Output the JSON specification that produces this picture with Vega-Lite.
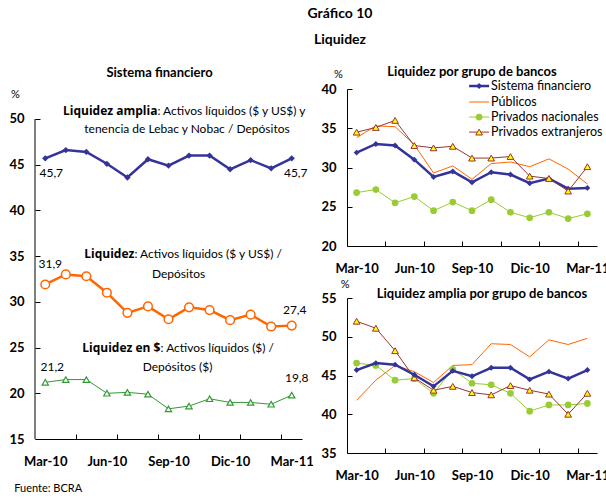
{
"$schema": "https://vega.github.io/schema/vega-lite/v6.json",
"padding": {"left": 8, "top": 6, "right": 5, "bottom": 5},
"title": {"text": ["Gráfico 10", "Liquidez"], "fontSize": 14, "fontWeight": "bold", "lineHeight": 26, "offset": 19, "dx": 31, "anchor": "middle"},
"bounds": "flush",
"spacing": 45,
"datasets": {
"sf": [
{"i":0,"mes":"mar-10","s":"amplia","v":45.7},{"i":1,"mes":"abr-10","s":"amplia","v":46.6},{"i":2,"mes":"may-10","s":"amplia","v":46.4},{"i":3,"mes":"jun-10","s":"amplia","v":45.1},{"i":4,"mes":"jul-10","s":"amplia","v":43.6},{"i":5,"mes":"ago-10","s":"amplia","v":45.6},{"i":6,"mes":"sep-10","s":"amplia","v":44.9},{"i":7,"mes":"oct-10","s":"amplia","v":46.0},{"i":8,"mes":"nov-10","s":"amplia","v":46.0},{"i":9,"mes":"dic-10","s":"amplia","v":44.5},{"i":10,"mes":"ene-11","s":"amplia","v":45.5},{"i":11,"mes":"feb-11","s":"amplia","v":44.6},{"i":12,"mes":"mar-11","s":"amplia","v":45.7},
{"i":0,"mes":"mar-10","s":"liq","v":31.9},{"i":1,"mes":"abr-10","s":"liq","v":33.0},{"i":2,"mes":"may-10","s":"liq","v":32.8},{"i":3,"mes":"jun-10","s":"liq","v":31.0},{"i":4,"mes":"jul-10","s":"liq","v":28.8},{"i":5,"mes":"ago-10","s":"liq","v":29.5},{"i":6,"mes":"sep-10","s":"liq","v":28.1},{"i":7,"mes":"oct-10","s":"liq","v":29.4},{"i":8,"mes":"nov-10","s":"liq","v":29.1},{"i":9,"mes":"dic-10","s":"liq","v":28.0},{"i":10,"mes":"ene-11","s":"liq","v":28.6},{"i":11,"mes":"feb-11","s":"liq","v":27.3},{"i":12,"mes":"mar-11","s":"liq","v":27.4},
{"i":0,"mes":"mar-10","s":"pesos","v":21.2},{"i":1,"mes":"abr-10","s":"pesos","v":21.5},{"i":2,"mes":"may-10","s":"pesos","v":21.5},{"i":3,"mes":"jun-10","s":"pesos","v":20.0},{"i":4,"mes":"jul-10","s":"pesos","v":20.1},{"i":5,"mes":"ago-10","s":"pesos","v":19.9},{"i":6,"mes":"sep-10","s":"pesos","v":18.3},{"i":7,"mes":"oct-10","s":"pesos","v":18.6},{"i":8,"mes":"nov-10","s":"pesos","v":19.4},{"i":9,"mes":"dic-10","s":"pesos","v":19.0},{"i":10,"mes":"ene-11","s":"pesos","v":19.0},{"i":11,"mes":"feb-11","s":"pesos","v":18.8},{"i":12,"mes":"mar-11","s":"pesos","v":19.8}
],
"grp": [
{"i":0,"s":"pub","v":33.8},{"i":1,"s":"pub","v":35.3},{"i":2,"s":"pub","v":35.2},{"i":3,"s":"pub","v":32.9},{"i":4,"s":"pub","v":29.3},{"i":5,"s":"pub","v":30.2},{"i":6,"s":"pub","v":28.5},{"i":7,"s":"pub","v":30.5},{"i":8,"s":"pub","v":30.7},{"i":9,"s":"pub","v":30.1},{"i":10,"s":"pub","v":31.1},{"i":11,"s":"pub","v":29.8},{"i":12,"s":"pub","v":27.9},
{"i":0,"s":"nac","v":26.8},{"i":1,"s":"nac","v":27.2},{"i":2,"s":"nac","v":25.5},{"i":3,"s":"nac","v":26.3},{"i":4,"s":"nac","v":24.5},{"i":5,"s":"nac","v":25.6},{"i":6,"s":"nac","v":24.5},{"i":7,"s":"nac","v":25.9},{"i":8,"s":"nac","v":24.3},{"i":9,"s":"nac","v":23.6},{"i":10,"s":"nac","v":24.3},{"i":11,"s":"nac","v":23.5},{"i":12,"s":"nac","v":24.1},
{"i":0,"s":"ext","v":34.5},{"i":1,"s":"ext","v":35.1},{"i":2,"s":"ext","v":36.0},{"i":3,"s":"ext","v":32.8},{"i":4,"s":"ext","v":32.5},{"i":5,"s":"ext","v":32.7},{"i":6,"s":"ext","v":31.2},{"i":7,"s":"ext","v":31.2},{"i":8,"s":"ext","v":31.4},{"i":9,"s":"ext","v":28.9},{"i":10,"s":"ext","v":28.6},{"i":11,"s":"ext","v":27.0},{"i":12,"s":"ext","v":30.1}
],
"grpa": [
{"i":0,"s":"pub","v":41.8},{"i":1,"s":"pub","v":44.4},{"i":2,"s":"pub","v":46.3},{"i":3,"s":"pub","v":45.5},{"i":4,"s":"pub","v":44.1},{"i":5,"s":"pub","v":46.3},{"i":6,"s":"pub","v":46.4},{"i":7,"s":"pub","v":49.1},{"i":8,"s":"pub","v":49.0},{"i":9,"s":"pub","v":47.4},{"i":10,"s":"pub","v":49.6},{"i":11,"s":"pub","v":49.0},{"i":12,"s":"pub","v":49.8},
{"i":0,"s":"nac","v":46.6},{"i":1,"s":"nac","v":46.3},{"i":2,"s":"nac","v":44.4},{"i":3,"s":"nac","v":44.6},{"i":4,"s":"nac","v":42.7},{"i":5,"s":"nac","v":45.8},{"i":6,"s":"nac","v":44.0},{"i":7,"s":"nac","v":43.8},{"i":8,"s":"nac","v":42.7},{"i":9,"s":"nac","v":40.4},{"i":10,"s":"nac","v":41.2},{"i":11,"s":"nac","v":41.2},{"i":12,"s":"nac","v":41.4},
{"i":0,"s":"ext","v":52.0},{"i":1,"s":"ext","v":51.1},{"i":2,"s":"ext","v":48.2},{"i":3,"s":"ext","v":44.7},{"i":4,"s":"ext","v":43.1},{"i":5,"s":"ext","v":43.6},{"i":6,"s":"ext","v":42.8},{"i":7,"s":"ext","v":42.5},{"i":8,"s":"ext","v":43.7},{"i":9,"s":"ext","v":43.1},{"i":10,"s":"ext","v":42.6},{"i":11,"s":"ext","v":40.0},{"i":12,"s":"ext","v":42.7}
]
},
"hconcat": [
{
"width": 267, "height": 350,
"title": {"text": "Sistema financiero", "dx": -9, "offset": 9},
"layer": [
{"data": {"name": "sf"}, "transform": [{"filter": "datum.s == 'amplia'"}], "mark": {"type": "line", "color": "#333399", "strokeWidth": 2.5},
"encoding": {"x": {"field": "i", "type": "quantitative", "title": null, "scale": {"domain": [-0.5, 12.5], "nice": false, "zero": false}, "axis": {"values": [0, 1.5, 3, 3.5, 5.5, 6, 7.5, 9, 9.5, 11.5, 12], "labelExpr": "datum.value % 3 == 0 ? ['Mar-10','Jun-10','Sep-10','Dic-10','Mar-11'][datum.value / 3] : ''", "tickOpacity": {"condition": {"test": "datum.value % 1 != 0", "value": 1}, "value": 0}}}, "y": {"field": "v", "type": "quantitative", "title": null, "scale": {"domain": [15, 53.28], "nice": false, "zero": false}, "axis": {"values": [15, 20, 25, 30, 35, 40, 45, 50], "domain": false}}}},
{"data": {"name": "sf"}, "transform": [{"filter": "datum.s == 'amplia'"}], "mark": {"type": "point", "shape": "diamond", "filled": true, "color": "#333399", "size": 40, "opacity": 1},
"encoding": {"x": {"field": "i", "type": "quantitative", "title": null, "scale": {"domain": [-0.5, 12.5], "nice": false, "zero": false}, "axis": {"values": [0, 1.5, 3, 3.5, 5.5, 6, 7.5, 9, 9.5, 11.5, 12], "labelExpr": "datum.value % 3 == 0 ? ['Mar-10','Jun-10','Sep-10','Dic-10','Mar-11'][datum.value / 3] : ''", "tickOpacity": {"condition": {"test": "datum.value % 1 != 0", "value": 1}, "value": 0}}}, "y": {"field": "v", "type": "quantitative", "title": null, "scale": {"domain": [15, 53.28], "nice": false, "zero": false}, "axis": {"values": [15, 20, 25, 30, 35, 40, 45, 50], "domain": false}}}},
{"data": {"name": "sf"}, "transform": [{"filter": "datum.s == 'liq'"}], "mark": {"type": "line", "color": "#FF6600", "strokeWidth": 2.5},
"encoding": {"x": {"field": "i", "type": "quantitative", "title": null, "scale": {"domain": [-0.5, 12.5], "nice": false, "zero": false}, "axis": {"values": [0, 1.5, 3, 3.5, 5.5, 6, 7.5, 9, 9.5, 11.5, 12], "labelExpr": "datum.value % 3 == 0 ? ['Mar-10','Jun-10','Sep-10','Dic-10','Mar-11'][datum.value / 3] : ''", "tickOpacity": {"condition": {"test": "datum.value % 1 != 0", "value": 1}, "value": 0}}}, "y": {"field": "v", "type": "quantitative", "title": null, "scale": {"domain": [15, 53.28], "nice": false, "zero": false}, "axis": {"values": [15, 20, 25, 30, 35, 40, 45, 50], "domain": false}}}},
{"data": {"name": "sf"}, "transform": [{"filter": "datum.s == 'liq'"}], "mark": {"type": "point", "shape": "circle", "filled": true, "fill": "white", "stroke": "#FF6600", "strokeWidth": 1.5, "size": 75, "opacity": 1},
"encoding": {"x": {"field": "i", "type": "quantitative", "title": null, "scale": {"domain": [-0.5, 12.5], "nice": false, "zero": false}, "axis": {"values": [0, 1.5, 3, 3.5, 5.5, 6, 7.5, 9, 9.5, 11.5, 12], "labelExpr": "datum.value % 3 == 0 ? ['Mar-10','Jun-10','Sep-10','Dic-10','Mar-11'][datum.value / 3] : ''", "tickOpacity": {"condition": {"test": "datum.value % 1 != 0", "value": 1}, "value": 0}}}, "y": {"field": "v", "type": "quantitative", "title": null, "scale": {"domain": [15, 53.28], "nice": false, "zero": false}, "axis": {"values": [15, 20, 25, 30, 35, 40, 45, 50], "domain": false}}}},
{"data": {"name": "sf"}, "transform": [{"filter": "datum.s == 'pesos'"}], "mark": {"type": "line", "color": "#339933", "strokeWidth": 1},
"encoding": {"x": {"field": "i", "type": "quantitative", "title": null, "scale": {"domain": [-0.5, 12.5], "nice": false, "zero": false}, "axis": {"values": [0, 1.5, 3, 3.5, 5.5, 6, 7.5, 9, 9.5, 11.5, 12], "labelExpr": "datum.value % 3 == 0 ? ['Mar-10','Jun-10','Sep-10','Dic-10','Mar-11'][datum.value / 3] : ''", "tickOpacity": {"condition": {"test": "datum.value % 1 != 0", "value": 1}, "value": 0}}}, "y": {"field": "v", "type": "quantitative", "title": null, "scale": {"domain": [15, 53.28], "nice": false, "zero": false}, "axis": {"values": [15, 20, 25, 30, 35, 40, 45, 50], "domain": false}}}},
{"data": {"name": "sf"}, "transform": [{"filter": "datum.s == 'pesos'"}], "mark": {"type": "point", "shape": "triangle-up", "filled": true, "fill": "white", "stroke": "#339933", "strokeWidth": 1.2, "size": 40, "opacity": 1},
"encoding": {"x": {"field": "i", "type": "quantitative", "title": null, "scale": {"domain": [-0.5, 12.5], "nice": false, "zero": false}, "axis": {"values": [0, 1.5, 3, 3.5, 5.5, 6, 7.5, 9, 9.5, 11.5, 12], "labelExpr": "datum.value % 3 == 0 ? ['Mar-10','Jun-10','Sep-10','Dic-10','Mar-11'][datum.value / 3] : ''", "tickOpacity": {"condition": {"test": "datum.value % 1 != 0", "value": 1}, "value": 0}}}, "y": {"field": "v", "type": "quantitative", "title": null, "scale": {"domain": [15, 53.28], "nice": false, "zero": false}, "axis": {"values": [15, 20, 25, 30, 35, 40, 45, 50], "domain": false}}}},
{"data": {"name": "sf"}, "transform": [{"filter": "datum.s == 'amplia' && datum.i == 0"}], "mark": {"type": "text", "dx": 6, "dy": 15},
"encoding": {"x": {"field": "i", "type": "quantitative", "title": null, "scale": {"domain": [-0.5, 12.5], "nice": false, "zero": false}, "axis": {"values": [0, 1.5, 3, 3.5, 5.5, 6, 7.5, 9, 9.5, 11.5, 12], "labelExpr": "datum.value % 3 == 0 ? ['Mar-10','Jun-10','Sep-10','Dic-10','Mar-11'][datum.value / 3] : ''", "tickOpacity": {"condition": {"test": "datum.value % 1 != 0", "value": 1}, "value": 0}}}, "y": {"field": "v", "type": "quantitative", "title": null, "scale": {"domain": [15, 53.28], "nice": false, "zero": false}, "axis": {"values": [15, 20, 25, 30, 35, 40, 45, 50], "domain": false}}, "text": {"field": "v", "type": "quantitative", "format": ".1f"}}},
{"data": {"name": "sf"}, "transform": [{"filter": "datum.s == 'amplia' && datum.i == 12"}], "mark": {"type": "text", "dx": 4, "dy": 15},
"encoding": {"x": {"field": "i", "type": "quantitative", "title": null, "scale": {"domain": [-0.5, 12.5], "nice": false, "zero": false}, "axis": {"values": [0, 1.5, 3, 3.5, 5.5, 6, 7.5, 9, 9.5, 11.5, 12], "labelExpr": "datum.value % 3 == 0 ? ['Mar-10','Jun-10','Sep-10','Dic-10','Mar-11'][datum.value / 3] : ''", "tickOpacity": {"condition": {"test": "datum.value % 1 != 0", "value": 1}, "value": 0}}}, "y": {"field": "v", "type": "quantitative", "title": null, "scale": {"domain": [15, 53.28], "nice": false, "zero": false}, "axis": {"values": [15, 20, 25, 30, 35, 40, 45, 50], "domain": false}}, "text": {"field": "v", "type": "quantitative", "format": ".1f"}}},
{"data": {"name": "sf"}, "transform": [{"filter": "datum.s == 'liq' && datum.i == 0"}], "mark": {"type": "text", "dx": 5, "dy": -20},
"encoding": {"x": {"field": "i", "type": "quantitative", "title": null, "scale": {"domain": [-0.5, 12.5], "nice": false, "zero": false}, "axis": {"values": [0, 1.5, 3, 3.5, 5.5, 6, 7.5, 9, 9.5, 11.5, 12], "labelExpr": "datum.value % 3 == 0 ? ['Mar-10','Jun-10','Sep-10','Dic-10','Mar-11'][datum.value / 3] : ''", "tickOpacity": {"condition": {"test": "datum.value % 1 != 0", "value": 1}, "value": 0}}}, "y": {"field": "v", "type": "quantitative", "title": null, "scale": {"domain": [15, 53.28], "nice": false, "zero": false}, "axis": {"values": [15, 20, 25, 30, 35, 40, 45, 50], "domain": false}}, "text": {"field": "v", "type": "quantitative", "format": ".1f"}}},
{"data": {"name": "sf"}, "transform": [{"filter": "datum.s == 'liq' && datum.i == 12"}], "mark": {"type": "text", "dx": 3, "dy": -16},
"encoding": {"x": {"field": "i", "type": "quantitative", "title": null, "scale": {"domain": [-0.5, 12.5], "nice": false, "zero": false}, "axis": {"values": [0, 1.5, 3, 3.5, 5.5, 6, 7.5, 9, 9.5, 11.5, 12], "labelExpr": "datum.value % 3 == 0 ? ['Mar-10','Jun-10','Sep-10','Dic-10','Mar-11'][datum.value / 3] : ''", "tickOpacity": {"condition": {"test": "datum.value % 1 != 0", "value": 1}, "value": 0}}}, "y": {"field": "v", "type": "quantitative", "title": null, "scale": {"domain": [15, 53.28], "nice": false, "zero": false}, "axis": {"values": [15, 20, 25, 30, 35, 40, 45, 50], "domain": false}}, "text": {"field": "v", "type": "quantitative", "format": ".1f"}}},
{"data": {"name": "sf"}, "transform": [{"filter": "datum.s == 'pesos' && datum.i == 0"}], "mark": {"type": "text", "dx": 7, "dy": -15},
"encoding": {"x": {"field": "i", "type": "quantitative", "title": null, "scale": {"domain": [-0.5, 12.5], "nice": false, "zero": false}, "axis": {"values": [0, 1.5, 3, 3.5, 5.5, 6, 7.5, 9, 9.5, 11.5, 12], "labelExpr": "datum.value % 3 == 0 ? ['Mar-10','Jun-10','Sep-10','Dic-10','Mar-11'][datum.value / 3] : ''", "tickOpacity": {"condition": {"test": "datum.value % 1 != 0", "value": 1}, "value": 0}}}, "y": {"field": "v", "type": "quantitative", "title": null, "scale": {"domain": [15, 53.28], "nice": false, "zero": false}, "axis": {"values": [15, 20, 25, 30, 35, 40, 45, 50], "domain": false}}, "text": {"field": "v", "type": "quantitative", "format": ".1f"}}},
{"data": {"name": "sf"}, "transform": [{"filter": "datum.s == 'pesos' && datum.i == 12"}], "mark": {"type": "text", "dx": 5, "dy": -17},
"encoding": {"x": {"field": "i", "type": "quantitative", "title": null, "scale": {"domain": [-0.5, 12.5], "nice": false, "zero": false}, "axis": {"values": [0, 1.5, 3, 3.5, 5.5, 6, 7.5, 9, 9.5, 11.5, 12], "labelExpr": "datum.value % 3 == 0 ? ['Mar-10','Jun-10','Sep-10','Dic-10','Mar-11'][datum.value / 3] : ''", "tickOpacity": {"condition": {"test": "datum.value % 1 != 0", "value": 1}, "value": 0}}}, "y": {"field": "v", "type": "quantitative", "title": null, "scale": {"domain": [15, 53.28], "nice": false, "zero": false}, "axis": {"values": [15, 20, 25, 30, 35, 40, 45, 50], "domain": false}}, "text": {"field": "v", "type": "quantitative", "format": ".1f"}}},
{"data": {"values": [{}]}, "mark": {"type": "rule", "color": "black", "strokeWidth": 1},
"encoding": {"x": {"datum": -0.5, "type": "quantitative", "title": null, "scale": {"domain": [-0.5, 12.5], "nice": false, "zero": false}, "axis": {"values": [0, 1.5, 3, 3.5, 5.5, 6, 7.5, 9, 9.5, 11.5, 12], "labelExpr": "datum.value % 3 == 0 ? ['Mar-10','Jun-10','Sep-10','Dic-10','Mar-11'][datum.value / 3] : ''", "tickOpacity": {"condition": {"test": "datum.value % 1 != 0", "value": 1}, "value": 0}}}, "y": {"datum": 15, "type": "quantitative", "title": null, "scale": {"domain": [15, 53.28], "nice": false, "zero": false}, "axis": {"values": [15, 20, 25, 30, 35, 40, 45, 50], "domain": false}}, "y2": {"datum": 50}}},
{"data": {"values": [{}]}, "mark": {"type": "text", "text": "Liquidez amplia", "font": "Open Sans", "fontSize": 12, "fontWeight": "bold", "align": "right"},
"encoding": {"x": {"datum": 5.46, "type": "quantitative", "title": null, "scale": {"domain": [-0.5, 12.5], "nice": false, "zero": false}, "axis": {"values": [0, 1.5, 3, 3.5, 5.5, 6, 7.5, 9, 9.5, 11.5, 12], "labelExpr": "datum.value % 3 == 0 ? ['Mar-10','Jun-10','Sep-10','Dic-10','Mar-11'][datum.value / 3] : ''", "tickOpacity": {"condition": {"test": "datum.value % 1 != 0", "value": 1}, "value": 0}}}, "y": {"datum": 50.88, "type": "quantitative", "title": null, "scale": {"domain": [15, 53.28], "nice": false, "zero": false}, "axis": {"values": [15, 20, 25, 30, 35, 40, 45, 50], "domain": false}}}},
{"data": {"values": [{}]}, "mark": {"type": "text", "text": ": Activos líquidos ($ y US$) y", "align": "left"},
"encoding": {"x": {"datum": 5.46, "type": "quantitative", "title": null, "scale": {"domain": [-0.5, 12.5], "nice": false, "zero": false}, "axis": {"values": [0, 1.5, 3, 3.5, 5.5, 6, 7.5, 9, 9.5, 11.5, 12], "labelExpr": "datum.value % 3 == 0 ? ['Mar-10','Jun-10','Sep-10','Dic-10','Mar-11'][datum.value / 3] : ''", "tickOpacity": {"condition": {"test": "datum.value % 1 != 0", "value": 1}, "value": 0}}}, "y": {"datum": 50.88, "type": "quantitative", "title": null, "scale": {"domain": [15, 53.28], "nice": false, "zero": false}, "axis": {"values": [15, 20, 25, 30, 35, 40, 45, 50], "domain": false}}}},
{"data": {"values": [{}]}, "mark": {"type": "text", "text": "tenencia de Lebac y Nobac / Depósitos", "align": "center"},
"encoding": {"x": {"datum": 6.9, "type": "quantitative", "title": null, "scale": {"domain": [-0.5, 12.5], "nice": false, "zero": false}, "axis": {"values": [0, 1.5, 3, 3.5, 5.5, 6, 7.5, 9, 9.5, 11.5, 12], "labelExpr": "datum.value % 3 == 0 ? ['Mar-10','Jun-10','Sep-10','Dic-10','Mar-11'][datum.value / 3] : ''", "tickOpacity": {"condition": {"test": "datum.value % 1 != 0", "value": 1}, "value": 0}}}, "y": {"datum": 48.9, "type": "quantitative", "title": null, "scale": {"domain": [15, 53.28], "nice": false, "zero": false}, "axis": {"values": [15, 20, 25, 30, 35, 40, 45, 50], "domain": false}}}},
{"data": {"values": [{}]}, "mark": {"type": "text", "text": "Liquidez", "font": "Open Sans", "fontSize": 12, "fontWeight": "bold", "align": "right"},
"encoding": {"x": {"datum": 4.34, "type": "quantitative", "title": null, "scale": {"domain": [-0.5, 12.5], "nice": false, "zero": false}, "axis": {"values": [0, 1.5, 3, 3.5, 5.5, 6, 7.5, 9, 9.5, 11.5, 12], "labelExpr": "datum.value % 3 == 0 ? ['Mar-10','Jun-10','Sep-10','Dic-10','Mar-11'][datum.value / 3] : ''", "tickOpacity": {"condition": {"test": "datum.value % 1 != 0", "value": 1}, "value": 0}}}, "y": {"datum": 35.23, "type": "quantitative", "title": null, "scale": {"domain": [15, 53.28], "nice": false, "zero": false}, "axis": {"values": [15, 20, 25, 30, 35, 40, 45, 50], "domain": false}}}},
{"data": {"values": [{}]}, "mark": {"type": "text", "text": ": Activos líquidos ($ y US$) /", "align": "left"},
"encoding": {"x": {"datum": 4.34, "type": "quantitative", "title": null, "scale": {"domain": [-0.5, 12.5], "nice": false, "zero": false}, "axis": {"values": [0, 1.5, 3, 3.5, 5.5, 6, 7.5, 9, 9.5, 11.5, 12], "labelExpr": "datum.value % 3 == 0 ? ['Mar-10','Jun-10','Sep-10','Dic-10','Mar-11'][datum.value / 3] : ''", "tickOpacity": {"condition": {"test": "datum.value % 1 != 0", "value": 1}, "value": 0}}}, "y": {"datum": 35.23, "type": "quantitative", "title": null, "scale": {"domain": [15, 53.28], "nice": false, "zero": false}, "axis": {"values": [15, 20, 25, 30, 35, 40, 45, 50], "domain": false}}}},
{"data": {"values": [{}]}, "mark": {"type": "text", "text": "Depósitos", "align": "center"},
"encoding": {"x": {"datum": 6.49, "type": "quantitative", "title": null, "scale": {"domain": [-0.5, 12.5], "nice": false, "zero": false}, "axis": {"values": [0, 1.5, 3, 3.5, 5.5, 6, 7.5, 9, 9.5, 11.5, 12], "labelExpr": "datum.value % 3 == 0 ? ['Mar-10','Jun-10','Sep-10','Dic-10','Mar-11'][datum.value / 3] : ''", "tickOpacity": {"condition": {"test": "datum.value % 1 != 0", "value": 1}, "value": 0}}}, "y": {"datum": 33.05, "type": "quantitative", "title": null, "scale": {"domain": [15, 53.28], "nice": false, "zero": false}, "axis": {"values": [15, 20, 25, 30, 35, 40, 45, 50], "domain": false}}}},
{"data": {"values": [{}]}, "mark": {"type": "text", "text": "Liquidez en $", "font": "Open Sans", "fontSize": 12, "fontWeight": "bold", "align": "right"},
"encoding": {"x": {"datum": 5.61, "type": "quantitative", "title": null, "scale": {"domain": [-0.5, 12.5], "nice": false, "zero": false}, "axis": {"values": [0, 1.5, 3, 3.5, 5.5, 6, 7.5, 9, 9.5, 11.5, 12], "labelExpr": "datum.value % 3 == 0 ? ['Mar-10','Jun-10','Sep-10','Dic-10','Mar-11'][datum.value / 3] : ''", "tickOpacity": {"condition": {"test": "datum.value % 1 != 0", "value": 1}, "value": 0}}}, "y": {"datum": 24.95, "type": "quantitative", "title": null, "scale": {"domain": [15, 53.28], "nice": false, "zero": false}, "axis": {"values": [15, 20, 25, 30, 35, 40, 45, 50], "domain": false}}}},
{"data": {"values": [{}]}, "mark": {"type": "text", "text": ": Activos líquidos ($) /", "align": "left"},
"encoding": {"x": {"datum": 5.61, "type": "quantitative", "title": null, "scale": {"domain": [-0.5, 12.5], "nice": false, "zero": false}, "axis": {"values": [0, 1.5, 3, 3.5, 5.5, 6, 7.5, 9, 9.5, 11.5, 12], "labelExpr": "datum.value % 3 == 0 ? ['Mar-10','Jun-10','Sep-10','Dic-10','Mar-11'][datum.value / 3] : ''", "tickOpacity": {"condition": {"test": "datum.value % 1 != 0", "value": 1}, "value": 0}}}, "y": {"datum": 24.95, "type": "quantitative", "title": null, "scale": {"domain": [15, 53.28], "nice": false, "zero": false}, "axis": {"values": [15, 20, 25, 30, 35, 40, 45, 50], "domain": false}}}},
{"data": {"values": [{}]}, "mark": {"type": "text", "text": "Depósitos ($)", "align": "center"},
"encoding": {"x": {"datum": 6.44, "type": "quantitative", "title": null, "scale": {"domain": [-0.5, 12.5], "nice": false, "zero": false}, "axis": {"values": [0, 1.5, 3, 3.5, 5.5, 6, 7.5, 9, 9.5, 11.5, 12], "labelExpr": "datum.value % 3 == 0 ? ['Mar-10','Jun-10','Sep-10','Dic-10','Mar-11'][datum.value / 3] : ''", "tickOpacity": {"condition": {"test": "datum.value % 1 != 0", "value": 1}, "value": 0}}}, "y": {"datum": 22.88, "type": "quantitative", "title": null, "scale": {"domain": [15, 53.28], "nice": false, "zero": false}, "axis": {"values": [15, 20, 25, 30, 35, 40, 45, 50], "domain": false}}}},
{"data": {"values": [{}]}, "mark": {"type": "text", "text": "%", "align": "center", "fontSize": 11},
"encoding": {"x": {"datum": -1.46, "type": "quantitative", "title": null, "scale": {"domain": [-0.5, 12.5], "nice": false, "zero": false}, "axis": {"values": [0, 1.5, 3, 3.5, 5.5, 6, 7.5, 9, 9.5, 11.5, 12], "labelExpr": "datum.value % 3 == 0 ? ['Mar-10','Jun-10','Sep-10','Dic-10','Mar-11'][datum.value / 3] : ''", "tickOpacity": {"condition": {"test": "datum.value % 1 != 0", "value": 1}, "value": 0}}}, "y": {"datum": 52.6, "type": "quantitative", "title": null, "scale": {"domain": [15, 53.28], "nice": false, "zero": false}, "axis": {"values": [15, 20, 25, 30, 35, 40, 45, 50], "domain": false}}}},
{"data": {"values": [{}]}, "mark": {"type": "text", "text": "Fuente: BCRA", "align": "left", "fontSize": 11},
"encoding": {"x": {"datum": -1.51, "type": "quantitative", "title": null, "scale": {"domain": [-0.5, 12.5], "nice": false, "zero": false}, "axis": {"values": [0, 1.5, 3, 3.5, 5.5, 6, 7.5, 9, 9.5, 11.5, 12], "labelExpr": "datum.value % 3 == 0 ? ['Mar-10','Jun-10','Sep-10','Dic-10','Mar-11'][datum.value / 3] : ''", "tickOpacity": {"condition": {"test": "datum.value % 1 != 0", "value": 1}, "value": 0}}}, "y": {"datum": 9.53, "type": "quantitative", "title": null, "scale": {"domain": [15, 53.28], "nice": false, "zero": false}, "axis": {"values": [15, 20, 25, 30, 35, 40, 45, 50], "domain": false}}}}
]
},
{
"bounds": "flush",
"spacing": 52,
"vconcat": [
{
"width": 250, "height": 157,
"title": {"text": "Liquidez por grupo de bancos", "dx": 0, "offset": -10},
"layer": [
{"data": {"name": "sf"}, "transform": [{"filter": "datum.s == 'liq'"}], "mark": {"type": "line", "color": "#333399", "strokeWidth": 2.5},
"encoding": {"x": {"field": "i", "type": "quantitative", "title": null, "scale": {"domain": [-0.5, 12.5], "nice": false, "zero": false}, "axis": {"values": [0, 1.5, 3, 3.5, 5.5, 6, 7.5, 9, 9.5, 11.5, 12], "labelExpr": "datum.value % 3 == 0 ? ['Mar-10','Jun-10','Sep-10','Dic-10','Mar-11'][datum.value / 3] : ''", "tickOpacity": {"condition": {"test": "datum.value % 1 != 0", "value": 1}, "value": 0}}}, "y": {"field": "v", "type": "quantitative", "title": null, "scale": {"domain": [20, 40], "nice": false, "zero": false}, "axis": {"values": [20, 25, 30, 35, 40]}}}},
{"data": {"name": "sf"}, "transform": [{"filter": "datum.s == 'liq'"}], "mark": {"type": "point", "shape": "diamond", "filled": true, "color": "#333399", "size": 35, "opacity": 1},
"encoding": {"x": {"field": "i", "type": "quantitative", "title": null, "scale": {"domain": [-0.5, 12.5], "nice": false, "zero": false}, "axis": {"values": [0, 1.5, 3, 3.5, 5.5, 6, 7.5, 9, 9.5, 11.5, 12], "labelExpr": "datum.value % 3 == 0 ? ['Mar-10','Jun-10','Sep-10','Dic-10','Mar-11'][datum.value / 3] : ''", "tickOpacity": {"condition": {"test": "datum.value % 1 != 0", "value": 1}, "value": 0}}}, "y": {"field": "v", "type": "quantitative", "title": null, "scale": {"domain": [20, 40], "nice": false, "zero": false}, "axis": {"values": [20, 25, 30, 35, 40]}}}},
{"data": {"name": "grp"}, "transform": [{"filter": "datum.s == 'pub'"}], "mark": {"type": "line", "color": "#FF6600", "strokeWidth": 1},
"encoding": {"x": {"field": "i", "type": "quantitative", "title": null, "scale": {"domain": [-0.5, 12.5], "nice": false, "zero": false}, "axis": {"values": [0, 1.5, 3, 3.5, 5.5, 6, 7.5, 9, 9.5, 11.5, 12], "labelExpr": "datum.value % 3 == 0 ? ['Mar-10','Jun-10','Sep-10','Dic-10','Mar-11'][datum.value / 3] : ''", "tickOpacity": {"condition": {"test": "datum.value % 1 != 0", "value": 1}, "value": 0}}}, "y": {"field": "v", "type": "quantitative", "title": null, "scale": {"domain": [20, 40], "nice": false, "zero": false}, "axis": {"values": [20, 25, 30, 35, 40]}}}},
{"data": {"name": "grp"}, "transform": [{"filter": "datum.s == 'nac'"}], "mark": {"type": "line", "color": "#99CC33", "strokeWidth": 1},
"encoding": {"x": {"field": "i", "type": "quantitative", "title": null, "scale": {"domain": [-0.5, 12.5], "nice": false, "zero": false}, "axis": {"values": [0, 1.5, 3, 3.5, 5.5, 6, 7.5, 9, 9.5, 11.5, 12], "labelExpr": "datum.value % 3 == 0 ? ['Mar-10','Jun-10','Sep-10','Dic-10','Mar-11'][datum.value / 3] : ''", "tickOpacity": {"condition": {"test": "datum.value % 1 != 0", "value": 1}, "value": 0}}}, "y": {"field": "v", "type": "quantitative", "title": null, "scale": {"domain": [20, 40], "nice": false, "zero": false}, "axis": {"values": [20, 25, 30, 35, 40]}}}},
{"data": {"name": "grp"}, "transform": [{"filter": "datum.s == 'nac'"}], "mark": {"type": "point", "shape": "circle", "filled": true, "color": "#99CC33", "size": 45, "opacity": 1},
"encoding": {"x": {"field": "i", "type": "quantitative", "title": null, "scale": {"domain": [-0.5, 12.5], "nice": false, "zero": false}, "axis": {"values": [0, 1.5, 3, 3.5, 5.5, 6, 7.5, 9, 9.5, 11.5, 12], "labelExpr": "datum.value % 3 == 0 ? ['Mar-10','Jun-10','Sep-10','Dic-10','Mar-11'][datum.value / 3] : ''", "tickOpacity": {"condition": {"test": "datum.value % 1 != 0", "value": 1}, "value": 0}}}, "y": {"field": "v", "type": "quantitative", "title": null, "scale": {"domain": [20, 40], "nice": false, "zero": false}, "axis": {"values": [20, 25, 30, 35, 40]}}}},
{"data": {"name": "grp"}, "transform": [{"filter": "datum.s == 'ext'"}], "mark": {"type": "line", "color": "#993333", "strokeWidth": 1},
"encoding": {"x": {"field": "i", "type": "quantitative", "title": null, "scale": {"domain": [-0.5, 12.5], "nice": false, "zero": false}, "axis": {"values": [0, 1.5, 3, 3.5, 5.5, 6, 7.5, 9, 9.5, 11.5, 12], "labelExpr": "datum.value % 3 == 0 ? ['Mar-10','Jun-10','Sep-10','Dic-10','Mar-11'][datum.value / 3] : ''", "tickOpacity": {"condition": {"test": "datum.value % 1 != 0", "value": 1}, "value": 0}}}, "y": {"field": "v", "type": "quantitative", "title": null, "scale": {"domain": [20, 40], "nice": false, "zero": false}, "axis": {"values": [20, 25, 30, 35, 40]}}}},
{"data": {"name": "grp"}, "transform": [{"filter": "datum.s == 'ext'"}], "mark": {"type": "point", "shape": "triangle-up", "filled": true, "fill": "#FFFF00", "stroke": "#993333", "strokeWidth": 1, "size": 45, "opacity": 1},
"encoding": {"x": {"field": "i", "type": "quantitative", "title": null, "scale": {"domain": [-0.5, 12.5], "nice": false, "zero": false}, "axis": {"values": [0, 1.5, 3, 3.5, 5.5, 6, 7.5, 9, 9.5, 11.5, 12], "labelExpr": "datum.value % 3 == 0 ? ['Mar-10','Jun-10','Sep-10','Dic-10','Mar-11'][datum.value / 3] : ''", "tickOpacity": {"condition": {"test": "datum.value % 1 != 0", "value": 1}, "value": 0}}}, "y": {"field": "v", "type": "quantitative", "title": null, "scale": {"domain": [20, 40], "nice": false, "zero": false}, "axis": {"values": [20, 25, 30, 35, 40]}}}},
{"data": {"values": [{}]}, "mark": {"type": "rule", "color": "#333399", "strokeWidth": 2.5},
"encoding": {"x": {"datum": 5.85, "type": "quantitative", "title": null, "scale": {"domain": [-0.5, 12.5], "nice": false, "zero": false}, "axis": {"values": [0, 1.5, 3, 3.5, 5.5, 6, 7.5, 9, 9.5, 11.5, 12], "labelExpr": "datum.value % 3 == 0 ? ['Mar-10','Jun-10','Sep-10','Dic-10','Mar-11'][datum.value / 3] : ''", "tickOpacity": {"condition": {"test": "datum.value % 1 != 0", "value": 1}, "value": 0}}}, "x2": {"datum": 6.89}, "y": {"datum": 40.38, "type": "quantitative", "title": null, "scale": {"domain": [20, 40], "nice": false, "zero": false}, "axis": {"values": [20, 25, 30, 35, 40]}}}},
{"data": {"values": [{}]}, "mark": {"type": "point", "shape": "diamond", "filled": true, "color": "#333399", "size": 35, "opacity": 1},
"encoding": {"x": {"datum": 6.37, "type": "quantitative", "title": null, "scale": {"domain": [-0.5, 12.5], "nice": false, "zero": false}, "axis": {"values": [0, 1.5, 3, 3.5, 5.5, 6, 7.5, 9, 9.5, 11.5, 12], "labelExpr": "datum.value % 3 == 0 ? ['Mar-10','Jun-10','Sep-10','Dic-10','Mar-11'][datum.value / 3] : ''", "tickOpacity": {"condition": {"test": "datum.value % 1 != 0", "value": 1}, "value": 0}}}, "y": {"datum": 40.38, "type": "quantitative", "title": null, "scale": {"domain": [20, 40], "nice": false, "zero": false}, "axis": {"values": [20, 25, 30, 35, 40]}}}},
{"data": {"values": [{}]}, "mark": {"type": "rule", "color": "#FF6600", "strokeWidth": 1},
"encoding": {"x": {"datum": 5.85, "type": "quantitative", "title": null, "scale": {"domain": [-0.5, 12.5], "nice": false, "zero": false}, "axis": {"values": [0, 1.5, 3, 3.5, 5.5, 6, 7.5, 9, 9.5, 11.5, 12], "labelExpr": "datum.value % 3 == 0 ? ['Mar-10','Jun-10','Sep-10','Dic-10','Mar-11'][datum.value / 3] : ''", "tickOpacity": {"condition": {"test": "datum.value % 1 != 0", "value": 1}, "value": 0}}}, "x2": {"datum": 6.89}, "y": {"datum": 38.34, "type": "quantitative", "title": null, "scale": {"domain": [20, 40], "nice": false, "zero": false}, "axis": {"values": [20, 25, 30, 35, 40]}}}},
{"data": {"values": [{}]}, "mark": {"type": "rule", "color": "#99CC33", "strokeWidth": 1},
"encoding": {"x": {"datum": 5.85, "type": "quantitative", "title": null, "scale": {"domain": [-0.5, 12.5], "nice": false, "zero": false}, "axis": {"values": [0, 1.5, 3, 3.5, 5.5, 6, 7.5, 9, 9.5, 11.5, 12], "labelExpr": "datum.value % 3 == 0 ? ['Mar-10','Jun-10','Sep-10','Dic-10','Mar-11'][datum.value / 3] : ''", "tickOpacity": {"condition": {"test": "datum.value % 1 != 0", "value": 1}, "value": 0}}}, "x2": {"datum": 6.89}, "y": {"datum": 36.43, "type": "quantitative", "title": null, "scale": {"domain": [20, 40], "nice": false, "zero": false}, "axis": {"values": [20, 25, 30, 35, 40]}}}},
{"data": {"values": [{}]}, "mark": {"type": "point", "shape": "circle", "filled": true, "color": "#99CC33", "size": 45, "opacity": 1},
"encoding": {"x": {"datum": 6.37, "type": "quantitative", "title": null, "scale": {"domain": [-0.5, 12.5], "nice": false, "zero": false}, "axis": {"values": [0, 1.5, 3, 3.5, 5.5, 6, 7.5, 9, 9.5, 11.5, 12], "labelExpr": "datum.value % 3 == 0 ? ['Mar-10','Jun-10','Sep-10','Dic-10','Mar-11'][datum.value / 3] : ''", "tickOpacity": {"condition": {"test": "datum.value % 1 != 0", "value": 1}, "value": 0}}}, "y": {"datum": 36.43, "type": "quantitative", "title": null, "scale": {"domain": [20, 40], "nice": false, "zero": false}, "axis": {"values": [20, 25, 30, 35, 40]}}}},
{"data": {"values": [{}]}, "mark": {"type": "rule", "color": "#993333", "strokeWidth": 1},
"encoding": {"x": {"datum": 5.85, "type": "quantitative", "title": null, "scale": {"domain": [-0.5, 12.5], "nice": false, "zero": false}, "axis": {"values": [0, 1.5, 3, 3.5, 5.5, 6, 7.5, 9, 9.5, 11.5, 12], "labelExpr": "datum.value % 3 == 0 ? ['Mar-10','Jun-10','Sep-10','Dic-10','Mar-11'][datum.value / 3] : ''", "tickOpacity": {"condition": {"test": "datum.value % 1 != 0", "value": 1}, "value": 0}}}, "x2": {"datum": 6.89}, "y": {"datum": 34.51, "type": "quantitative", "title": null, "scale": {"domain": [20, 40], "nice": false, "zero": false}, "axis": {"values": [20, 25, 30, 35, 40]}}}},
{"data": {"values": [{}]}, "mark": {"type": "point", "shape": "triangle-up", "filled": true, "fill": "#FFFF00", "stroke": "#993333", "strokeWidth": 1, "size": 45, "opacity": 1},
"encoding": {"x": {"datum": 6.37, "type": "quantitative", "title": null, "scale": {"domain": [-0.5, 12.5], "nice": false, "zero": false}, "axis": {"values": [0, 1.5, 3, 3.5, 5.5, 6, 7.5, 9, 9.5, 11.5, 12], "labelExpr": "datum.value % 3 == 0 ? ['Mar-10','Jun-10','Sep-10','Dic-10','Mar-11'][datum.value / 3] : ''", "tickOpacity": {"condition": {"test": "datum.value % 1 != 0", "value": 1}, "value": 0}}}, "y": {"datum": 34.51, "type": "quantitative", "title": null, "scale": {"domain": [20, 40], "nice": false, "zero": false}, "axis": {"values": [20, 25, 30, 35, 40]}}}},
{"data": {"values": [{}]}, "mark": {"type": "text", "text": "Sistema financiero", "align": "left", "fontSize": 12.5},
"encoding": {"x": {"datum": 6.99, "type": "quantitative", "title": null, "scale": {"domain": [-0.5, 12.5], "nice": false, "zero": false}, "axis": {"values": [0, 1.5, 3, 3.5, 5.5, 6, 7.5, 9, 9.5, 11.5, 12], "labelExpr": "datum.value % 3 == 0 ? ['Mar-10','Jun-10','Sep-10','Dic-10','Mar-11'][datum.value / 3] : ''", "tickOpacity": {"condition": {"test": "datum.value % 1 != 0", "value": 1}, "value": 0}}}, "y": {"datum": 40.38, "type": "quantitative", "title": null, "scale": {"domain": [20, 40], "nice": false, "zero": false}, "axis": {"values": [20, 25, 30, 35, 40]}}}},
{"data": {"values": [{}]}, "mark": {"type": "text", "text": "Públicos", "align": "left", "fontSize": 12.5},
"encoding": {"x": {"datum": 6.99, "type": "quantitative", "title": null, "scale": {"domain": [-0.5, 12.5], "nice": false, "zero": false}, "axis": {"values": [0, 1.5, 3, 3.5, 5.5, 6, 7.5, 9, 9.5, 11.5, 12], "labelExpr": "datum.value % 3 == 0 ? ['Mar-10','Jun-10','Sep-10','Dic-10','Mar-11'][datum.value / 3] : ''", "tickOpacity": {"condition": {"test": "datum.value % 1 != 0", "value": 1}, "value": 0}}}, "y": {"datum": 38.34, "type": "quantitative", "title": null, "scale": {"domain": [20, 40], "nice": false, "zero": false}, "axis": {"values": [20, 25, 30, 35, 40]}}}},
{"data": {"values": [{}]}, "mark": {"type": "text", "text": "Privados nacionales", "align": "left", "fontSize": 12.5},
"encoding": {"x": {"datum": 6.99, "type": "quantitative", "title": null, "scale": {"domain": [-0.5, 12.5], "nice": false, "zero": false}, "axis": {"values": [0, 1.5, 3, 3.5, 5.5, 6, 7.5, 9, 9.5, 11.5, 12], "labelExpr": "datum.value % 3 == 0 ? ['Mar-10','Jun-10','Sep-10','Dic-10','Mar-11'][datum.value / 3] : ''", "tickOpacity": {"condition": {"test": "datum.value % 1 != 0", "value": 1}, "value": 0}}}, "y": {"datum": 36.43, "type": "quantitative", "title": null, "scale": {"domain": [20, 40], "nice": false, "zero": false}, "axis": {"values": [20, 25, 30, 35, 40]}}}},
{"data": {"values": [{}]}, "mark": {"type": "text", "text": "Privados extranjeros", "align": "left", "fontSize": 12.5},
"encoding": {"x": {"datum": 6.99, "type": "quantitative", "title": null, "scale": {"domain": [-0.5, 12.5], "nice": false, "zero": false}, "axis": {"values": [0, 1.5, 3, 3.5, 5.5, 6, 7.5, 9, 9.5, 11.5, 12], "labelExpr": "datum.value % 3 == 0 ? ['Mar-10','Jun-10','Sep-10','Dic-10','Mar-11'][datum.value / 3] : ''", "tickOpacity": {"condition": {"test": "datum.value % 1 != 0", "value": 1}, "value": 0}}}, "y": {"datum": 34.51, "type": "quantitative", "title": null, "scale": {"domain": [20, 40], "nice": false, "zero": false}, "axis": {"values": [20, 25, 30, 35, 40]}}}},
{"data": {"values": [{}]}, "mark": {"type": "text", "text": "%", "align": "center", "fontSize": 11},
"encoding": {"x": {"datum": -0.95, "type": "quantitative", "title": null, "scale": {"domain": [-0.5, 12.5], "nice": false, "zero": false}, "axis": {"values": [0, 1.5, 3, 3.5, 5.5, 6, 7.5, 9, 9.5, 11.5, 12], "labelExpr": "datum.value % 3 == 0 ? ['Mar-10','Jun-10','Sep-10','Dic-10','Mar-11'][datum.value / 3] : ''", "tickOpacity": {"condition": {"test": "datum.value % 1 != 0", "value": 1}, "value": 0}}}, "y": {"datum": 41.79, "type": "quantitative", "title": null, "scale": {"domain": [20, 40], "nice": false, "zero": false}, "axis": {"values": [20, 25, 30, 35, 40]}}}}
]
},
{
"width": 250, "height": 155,
"title": {"text": "Liquidez amplia por grupo de bancos", "dx": 10, "offset": -22},
"layer": [
{"data": {"name": "grpa"}, "transform": [{"filter": "datum.s == 'pub'"}], "mark": {"type": "line", "color": "#FF6600", "strokeWidth": 1},
"encoding": {"x": {"field": "i", "type": "quantitative", "title": null, "scale": {"domain": [-0.5, 12.5], "nice": false, "zero": false}, "axis": {"values": [0, 1.5, 3, 3.5, 5.5, 6, 7.5, 9, 9.5, 11.5, 12], "labelExpr": "datum.value % 3 == 0 ? ['Mar-10','Jun-10','Sep-10','Dic-10','Mar-11'][datum.value / 3] : ''", "tickOpacity": {"condition": {"test": "datum.value % 1 != 0", "value": 1}, "value": 0}}}, "y": {"field": "v", "type": "quantitative", "title": null, "scale": {"domain": [35, 55], "nice": false, "zero": false}, "axis": {"values": [35, 40, 45, 50, 55]}}}},
{"data": {"name": "grpa"}, "transform": [{"filter": "datum.s == 'nac'"}], "mark": {"type": "line", "color": "#99CC33", "strokeWidth": 1},
"encoding": {"x": {"field": "i", "type": "quantitative", "title": null, "scale": {"domain": [-0.5, 12.5], "nice": false, "zero": false}, "axis": {"values": [0, 1.5, 3, 3.5, 5.5, 6, 7.5, 9, 9.5, 11.5, 12], "labelExpr": "datum.value % 3 == 0 ? ['Mar-10','Jun-10','Sep-10','Dic-10','Mar-11'][datum.value / 3] : ''", "tickOpacity": {"condition": {"test": "datum.value % 1 != 0", "value": 1}, "value": 0}}}, "y": {"field": "v", "type": "quantitative", "title": null, "scale": {"domain": [35, 55], "nice": false, "zero": false}, "axis": {"values": [35, 40, 45, 50, 55]}}}},
{"data": {"name": "grpa"}, "transform": [{"filter": "datum.s == 'nac'"}], "mark": {"type": "point", "shape": "circle", "filled": true, "color": "#99CC33", "size": 45, "opacity": 1},
"encoding": {"x": {"field": "i", "type": "quantitative", "title": null, "scale": {"domain": [-0.5, 12.5], "nice": false, "zero": false}, "axis": {"values": [0, 1.5, 3, 3.5, 5.5, 6, 7.5, 9, 9.5, 11.5, 12], "labelExpr": "datum.value % 3 == 0 ? ['Mar-10','Jun-10','Sep-10','Dic-10','Mar-11'][datum.value / 3] : ''", "tickOpacity": {"condition": {"test": "datum.value % 1 != 0", "value": 1}, "value": 0}}}, "y": {"field": "v", "type": "quantitative", "title": null, "scale": {"domain": [35, 55], "nice": false, "zero": false}, "axis": {"values": [35, 40, 45, 50, 55]}}}},
{"data": {"name": "grpa"}, "transform": [{"filter": "datum.s == 'ext'"}], "mark": {"type": "line", "color": "#993333", "strokeWidth": 1},
"encoding": {"x": {"field": "i", "type": "quantitative", "title": null, "scale": {"domain": [-0.5, 12.5], "nice": false, "zero": false}, "axis": {"values": [0, 1.5, 3, 3.5, 5.5, 6, 7.5, 9, 9.5, 11.5, 12], "labelExpr": "datum.value % 3 == 0 ? ['Mar-10','Jun-10','Sep-10','Dic-10','Mar-11'][datum.value / 3] : ''", "tickOpacity": {"condition": {"test": "datum.value % 1 != 0", "value": 1}, "value": 0}}}, "y": {"field": "v", "type": "quantitative", "title": null, "scale": {"domain": [35, 55], "nice": false, "zero": false}, "axis": {"values": [35, 40, 45, 50, 55]}}}},
{"data": {"name": "grpa"}, "transform": [{"filter": "datum.s == 'ext'"}], "mark": {"type": "point", "shape": "triangle-up", "filled": true, "fill": "#FFFF00", "stroke": "#993333", "strokeWidth": 1, "size": 45, "opacity": 1},
"encoding": {"x": {"field": "i", "type": "quantitative", "title": null, "scale": {"domain": [-0.5, 12.5], "nice": false, "zero": false}, "axis": {"values": [0, 1.5, 3, 3.5, 5.5, 6, 7.5, 9, 9.5, 11.5, 12], "labelExpr": "datum.value % 3 == 0 ? ['Mar-10','Jun-10','Sep-10','Dic-10','Mar-11'][datum.value / 3] : ''", "tickOpacity": {"condition": {"test": "datum.value % 1 != 0", "value": 1}, "value": 0}}}, "y": {"field": "v", "type": "quantitative", "title": null, "scale": {"domain": [35, 55], "nice": false, "zero": false}, "axis": {"values": [35, 40, 45, 50, 55]}}}},
{"data": {"name": "sf"}, "transform": [{"filter": "datum.s == 'amplia'"}], "mark": {"type": "line", "color": "#333399", "strokeWidth": 2.5},
"encoding": {"x": {"field": "i", "type": "quantitative", "title": null, "scale": {"domain": [-0.5, 12.5], "nice": false, "zero": false}, "axis": {"values": [0, 1.5, 3, 3.5, 5.5, 6, 7.5, 9, 9.5, 11.5, 12], "labelExpr": "datum.value % 3 == 0 ? ['Mar-10','Jun-10','Sep-10','Dic-10','Mar-11'][datum.value / 3] : ''", "tickOpacity": {"condition": {"test": "datum.value % 1 != 0", "value": 1}, "value": 0}}}, "y": {"field": "v", "type": "quantitative", "title": null, "scale": {"domain": [35, 55], "nice": false, "zero": false}, "axis": {"values": [35, 40, 45, 50, 55]}}}},
{"data": {"name": "sf"}, "transform": [{"filter": "datum.s == 'amplia'"}], "mark": {"type": "point", "shape": "diamond", "filled": true, "color": "#333399", "size": 35, "opacity": 1},
"encoding": {"x": {"field": "i", "type": "quantitative", "title": null, "scale": {"domain": [-0.5, 12.5], "nice": false, "zero": false}, "axis": {"values": [0, 1.5, 3, 3.5, 5.5, 6, 7.5, 9, 9.5, 11.5, 12], "labelExpr": "datum.value % 3 == 0 ? ['Mar-10','Jun-10','Sep-10','Dic-10','Mar-11'][datum.value / 3] : ''", "tickOpacity": {"condition": {"test": "datum.value % 1 != 0", "value": 1}, "value": 0}}}, "y": {"field": "v", "type": "quantitative", "title": null, "scale": {"domain": [35, 55], "nice": false, "zero": false}, "axis": {"values": [35, 40, 45, 50, 55]}}}},
{"data": {"values": [{}]}, "mark": {"type": "text", "text": "%", "align": "center", "fontSize": 11},
"encoding": {"x": {"datum": -0.59, "type": "quantitative", "title": null, "scale": {"domain": [-0.5, 12.5], "nice": false, "zero": false}, "axis": {"values": [0, 1.5, 3, 3.5, 5.5, 6, 7.5, 9, 9.5, 11.5, 12], "labelExpr": "datum.value % 3 == 0 ? ['Mar-10','Jun-10','Sep-10','Dic-10','Mar-11'][datum.value / 3] : ''", "tickOpacity": {"condition": {"test": "datum.value % 1 != 0", "value": 1}, "value": 0}}}, "y": {"datum": 56.68, "type": "quantitative", "title": null, "scale": {"domain": [35, 55], "nice": false, "zero": false}, "axis": {"values": [35, 40, 45, 50, 55]}}}}
]
}
]
}
],
"config": {
"font": "Lato",
"view": {"stroke": null},
"axis": {"grid": false, "labelFont": "Lato", "labelFontSize": 13, "labelFontWeight": "bold", "labelColor": "#000", "tickColor": "#000", "domainColor": "#000", "tickSize": -5, "tickWidth": 1, "domainWidth": 1, "labelOverlap": false},
"axisX": {"labelPadding": 21, "labelOverlap": false, "labelFlush": false},
"axisY": {"labelPadding": 16, "labelOverlap": false},
"title": {"font": "Lato", "fontSize": 13, "fontWeight": "bold", "color": "#000"},
"text": {"font": "Lato", "fontSize": 12, "color": "#000", "baseline": "middle"},
"locale": {"number": {"decimal": ",", "thousands": ".", "grouping": [3], "currency": ["$", ""]}}
}
}
